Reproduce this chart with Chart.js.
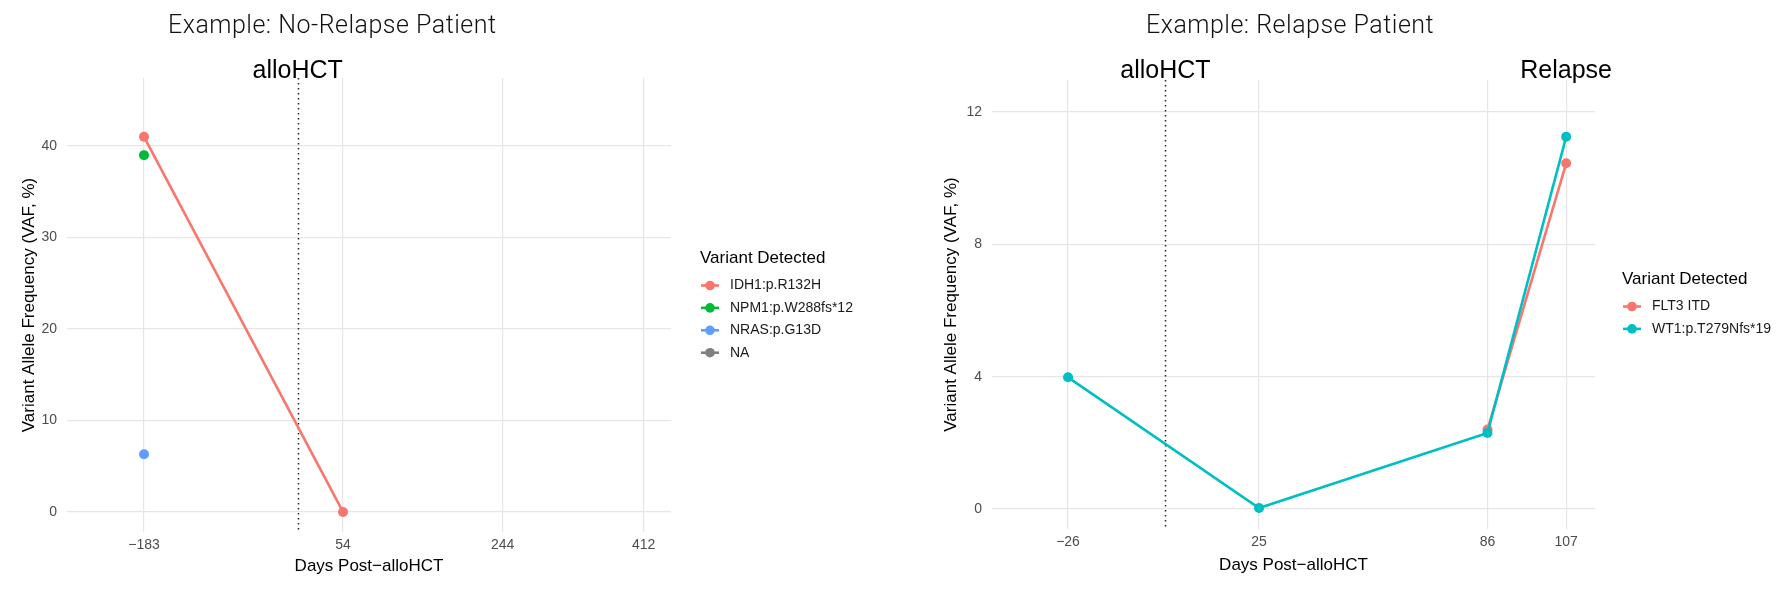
<!DOCTYPE html>
<html><head><meta charset="utf-8">
<script src="https://cdn.jsdelivr.net/npm/chart.js@4.4.1/dist/chart.umd.min.js"></script>
<style>
html,body{margin:0;padding:0;background:#fff;}
#wrap{position:relative;width:1782px;height:593px;overflow:hidden;background:#fff;}
canvas{position:absolute;top:0;}
#c1{left:0;} #c2{left:890px;}
</style></head><body>
<div id="wrap"><canvas id="c1" width="890" height="593"></canvas><canvas id="c2" width="892" height="593"></canvas></div>
<script>
// ---------- data ----------
const leftTitle = 'Example: No-Relapse Patient';
const rightTitle = 'Example: Relapse Patient';
const xAxisTitle = 'Days Post\u2212alloHCT';
const yAxisTitle = 'Variant Allele Frequency (VAF, %)';
const legendTitle = 'Variant Detected';

const leftXTicks = [-183, 54, 244, 412];
const leftYTicks = [0, 10, 20, 30, 40];
const rightXTicks = [-26, 25, 86, 107];
const rightYTicks = [0, 4, 8, 12];

const leftVariants = ['IDH1:p.R132H', 'NPM1:p.W288fs*12', 'NRAS:p.G13D', 'NA'];
const idh1Days = [-183, 54];
const idh1Vaf = [41.0, 0.0];
const npm1Days = [-183];
const npm1Vaf = [39.0];
const nrasDays = [-183];
const nrasVaf = [6.3];
const naDays = [];
const naVaf = [];

const rightVariants = ['FLT3 ITD', 'WT1:p.T279Nfs*19'];
const flt3Days = [86, 107];
const flt3Vaf = [2.4, 10.45];
const wt1Days = [-26, 25, 86, 107];
const wt1Vaf = [3.98, 0.03, 2.3, 11.25];

const leftEvents = [{day: 0, label: 'alloHCT', line: true}];
const rightEvents = [{day: 0, label: 'alloHCT', line: true}, {day: 107, label: 'Relapse', line: false}];

// ---------- helpers ----------
const FONT = '"Liberation Sans", Arial, Helvetica, sans-serif';
const fmt = v => String(v).replace('-', '\u2212');
const pts = (xs, ys) => xs.map((x, i) => ({x: x, y: ys[i]}));

function ds(label, xs, ys, color, order) {
  return {
    label: label, data: pts(xs, ys), borderColor: color, backgroundColor: color,
    borderWidth: 2.6, pointRadius: 5, pointHoverRadius: 5, pointBorderWidth: 0,
    tension: 0, fill: false, order: order
  };
}

const overlay = {
  id: 'overlay',
  beforeDatasetsDraw(chart, args, opts) {
    const ctx = chart.ctx, a = chart.chartArea, xs = chart.scales.x;
    ctx.save();
    ctx.strokeStyle = '#222';
    ctx.lineWidth = 1.5;
    ctx.setLineDash([1.6, 3.4]);
    opts.events.forEach(e => {
      if (!e.line) return;
      const x = Math.round(xs.getPixelForValue(e.day)) + 0.5;
      ctx.beginPath(); ctx.moveTo(x, a.top); ctx.lineTo(x, a.bottom); ctx.stroke();
    });
    ctx.restore();
  },
  afterDraw(chart, args, opts) {
    const ctx = chart.ctx, xs = chart.scales.x;
    ctx.save();
    // event labels
    ctx.fillStyle = '#000';
    ctx.font = '25px ' + FONT;
    ctx.textAlign = 'center';
    ctx.textBaseline = 'alphabetic';
    opts.events.forEach(e => ctx.fillText(e.label, xs.getPixelForValue(e.day), 78));
    // title
    ctx.font = '300 25px Roboto, ' + FONT;
    ctx.textAlign = 'left';
    ctx.fillStyle = '#111';
    try { ctx.letterSpacing = '0.5px'; } catch (e) {}
    ctx.fillText(opts.title, opts.titleX, 33);
    try { ctx.letterSpacing = '0px'; } catch (e) {}
    // legend
    const L = opts.legend;
    ctx.fillStyle = '#000';
    ctx.font = '17px ' + FONT;
    ctx.textBaseline = 'middle';
    ctx.fillText(legendTitle, L.x, L.y);
    ctx.font = '14px ' + FONT;
    chart.data.datasets.forEach((d, i) => {
      const cy = L.y + 27.5 + i * 22.4;
      const kx = L.x + 10;
      ctx.strokeStyle = d.borderColor;
      ctx.lineWidth = 2.6;
      ctx.setLineDash([]);
      ctx.beginPath(); ctx.moveTo(kx - 9, cy); ctx.lineTo(kx + 9, cy); ctx.stroke();
      ctx.fillStyle = d.backgroundColor;
      ctx.beginPath(); ctx.arc(kx, cy, 4.8, 0, Math.PI * 2); ctx.fill();
      ctx.fillStyle = '#1a1a1a';
      ctx.fillText(d.label, kx + 20, cy);
    });
    ctx.restore();
  }
};

function makeOptions(p) {
  return {
    responsive: false, maintainAspectRatio: false, animation: false,
    layout: {padding: p.padding},
    plugins: {
      legend: {display: false}, tooltip: {enabled: false},
      overlay: {events: p.events, title: p.title, titleX: p.titleX, legend: p.legend}
    },
    scales: {
      x: {
        type: 'linear', min: p.xMin, max: p.xMax,
        afterBuildTicks: s => { s.ticks = p.xTicks.map(v => ({value: v})); },
        afterFit: s => { s.height = p.xH; },
        grid: {color: '#E6E6E6', lineWidth: 1.2, drawTicks: false},
        border: {display: false},
        ticks: {callback: v => fmt(v), color: '#4D4D4D', padding: 5, maxRotation: 0, autoSkip: false,
                font: {family: FONT, size: 14}},
        title: {display: true, text: xAxisTitle, color: '#000', padding: 0,
                font: {family: FONT, size: 17}}
      },
      y: {
        type: 'linear', min: p.yMin, max: p.yMax,
        afterBuildTicks: s => { s.ticks = p.yTicks.map(v => ({value: v})); },
        afterFit: s => { s.width = p.yW; },
        grid: {color: '#E6E6E6', lineWidth: 1.2, drawTicks: false},
        border: {display: false},
        ticks: {callback: v => fmt(v), color: '#4D4D4D', padding: 10,
                font: {family: FONT, size: 14}},
        title: {display: true, text: yAxisTitle, color: '#000', padding: 0,
                font: {family: FONT, size: 17}}
      }
    }
  };
}

new Chart(document.getElementById('c1'), {
  type: 'line',
  data: {datasets: [
    ds(leftVariants[0], idh1Days, idh1Vaf, '#F8766D', 3),
    ds(leftVariants[1], npm1Days, npm1Vaf, '#00BA38', 2),
    ds(leftVariants[2], nrasDays, nrasVaf, '#619CFF', 1),
    ds(leftVariants[3], naDays, naVaf, '#7F7F7F', 0)
  ]},
  options: makeOptions({
    padding: {left: 19, top: 78, right: 219, bottom: 16},
    xMin: -274.7, xMax: 444.6, yMin: -2.19, yMax: 47.43,
    xTicks: leftXTicks, yTicks: leftYTicks, xH: 45, yW: 48,
    events: leftEvents, title: leftTitle, titleX: 168,
    legend: {x: 700, y: 258}
  }),
  plugins: [overlay]
});

new Chart(document.getElementById('c2'), {
  type: 'line',
  data: {datasets: [
    ds(rightVariants[0], flt3Days, flt3Vaf, '#F8766D', 1),
    ds(rightVariants[1], wt1Days, wt1Vaf, '#00BFC4', 0)
  ]},
  options: makeOptions({
    padding: {left: 51, top: 80, right: 187, bottom: 17},
    xMin: -46.3, xMax: 114.7, yMin: -0.605, yMax: 12.967,
    xTicks: rightXTicks, yTicks: rightYTicks, xH: 47, yW: 51,
    events: rightEvents, title: rightTitle, titleX: 256,
    legend: {x: 732, y: 279}
  }),
  plugins: [overlay]
});
</script>
</body></html>
